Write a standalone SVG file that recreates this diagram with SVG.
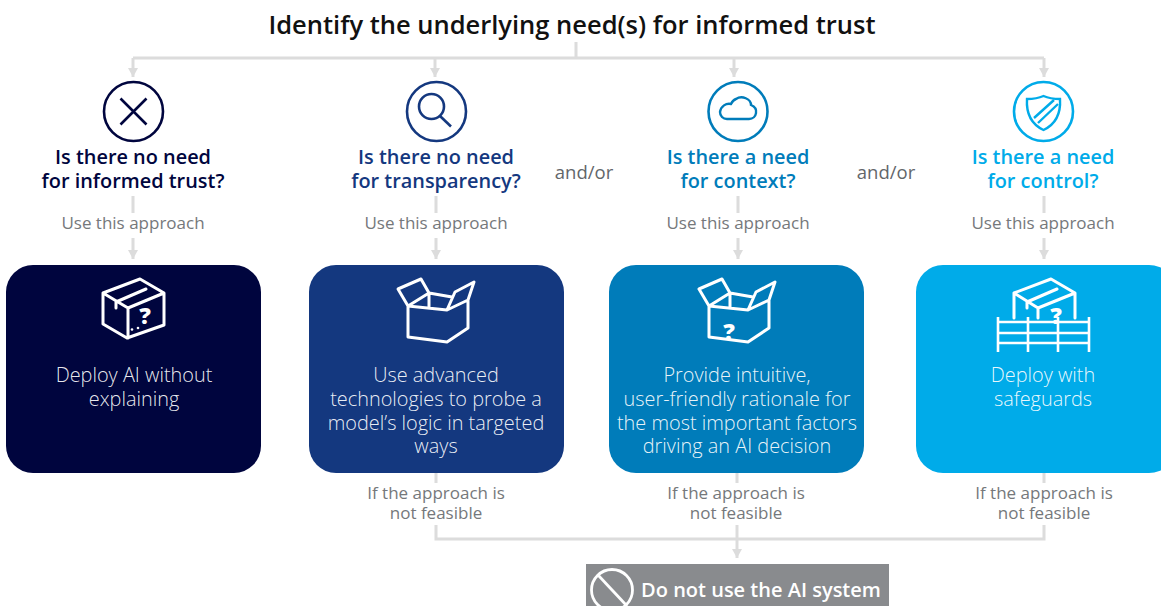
<svg xmlns="http://www.w3.org/2000/svg" width="1161" height="606" viewBox="0 0 1161 606">
<style>
text{font-family:"Open Sans","Noto Sans","Liberation Sans",sans-serif;text-anchor:middle}
.t{font-size:25.5px;font-weight:600;fill:#111}
.q{font-size:19.9px;font-weight:600}
.g{font-size:17px;fill:#75787b}
.a{font-size:18.5px;fill:#63666a}
.b{font-size:19.9px;font-weight:300;fill:#fff;fill-opacity:.92}
.c{fill:none;stroke:#dcdcdc;stroke-width:3}
.i{fill:none;stroke:#fff;stroke-width:3;stroke-linejoin:round;stroke-linecap:round}
.o{fill:none;stroke-width:2.6}
.qm{font-size:23px;font-weight:800;fill:#fff}
</style>
<defs>
<marker id="ah" markerUnits="userSpaceOnUse" markerWidth="10" markerHeight="10" refX="9" refY="5" orient="auto"><path d="M0 0L9 5L0 10Z" fill="#dcdcdc"/></marker>
<path id="openbox" class="i" d="M408 306V337L447 342L468 328V300L447 310ZM408 306L398 289L421 279L429 293ZM429 293V307M429 293L452 297M447 310L455 292L474 282L468 300"/>
</defs>
<g id="title"><text class="t" x="572" y="34">Identify the underlying need(s) for informed trust</text></g>
<g id="connectors">
<path class="c" d="M576 42V58M133 58H1044"/>
<path class="c" d="M133 58V77" marker-end="url(#ah)"/>
<path class="c" d="M435 58V77" marker-end="url(#ah)"/>
<path class="c" d="M734 58V77" marker-end="url(#ah)"/>
<path class="c" d="M1044 58V77" marker-end="url(#ah)"/>
<path class="c" d="M133 196V213M133 238V259" marker-end="url(#ah)"/>
<path class="c" d="M436 196V213M436 238V259" marker-end="url(#ah)"/>
<path class="c" d="M738 196V213M738 238V259" marker-end="url(#ah)"/>
<path class="c" d="M1044 196V213M1044 238V259" marker-end="url(#ah)"/>
<path class="c" d="M436 473V483M737 473V483M1044 473V483"/>
<path class="c" d="M436 525V539H1044V525"/>
<path class="c" d="M737 525V558" marker-end="url(#ah)"/>
</g>
<g id="need-trust">
<circle class="o" cx="133.500" cy="111.500" r="29.500" stroke="#00053e"/>
<path d="M120.500 98.500L146.500 124.500M146.500 98.500L120.500 124.500" fill="none" stroke="#00053e" stroke-width="2.600"/>
<text class="q" fill="#00053e"><tspan x="133" y="164">Is there no need</tspan><tspan x="133" y="188">for informed trust?</tspan></text>
<text class="g" x="133" y="229">Use this approach</text>
<rect x="6" y="265" width="255" height="208" rx="27" fill="#00053e"/>
<path class="i" d="M103 293L140 279L164 293V325L127 338L103 324ZM103 293L128 308L164 293M128 308V338M116 302L146 289M116 302V308"/>
<circle cx="132" cy="329.500" r="1.300" fill="#fff"/><circle cx="138" cy="328" r="1.300" fill="#fff"/>
<text class="qm" x="145" y="324">?</text>
<text class="b"><tspan x="134" y="382">Deploy AI without</tspan><tspan x="134" y="406">explaining</tspan></text>
</g>
<g id="need-transparency">
<circle class="o" cx="436.500" cy="111.500" r="29.500" stroke="#14387f"/>
<circle cx="431.500" cy="106.500" r="12.500" fill="none" stroke="#14387f" stroke-width="2.600"/>
<path d="M440 116L451 126.500" fill="none" stroke="#14387f" stroke-width="2.600"/>
<text class="q" fill="#14387f"><tspan x="436" y="164">Is there no need</tspan><tspan x="436" y="188">for transparency?</tspan></text>
<text class="g" x="436" y="229">Use this approach</text>
<rect x="309" y="265" width="255" height="208" rx="27" fill="#14387f"/>
<use href="#openbox"/>
<text class="b"><tspan x="436" y="382">Use advanced</tspan><tspan x="436" y="406">technologies to probe a</tspan><tspan x="436" y="430">model’s logic in targeted</tspan><tspan x="436" y="453">ways</tspan></text>
</g>
<g id="need-context">
<circle class="o" cx="738" cy="111.500" r="29.500" stroke="#007cba"/>
<path d="M727 119H749C757 119 759 108 751 105C751 99 742 95 736 99C733 100 732 102 731 104C726 103 721 106 720 112C720 116 723 119 727 119Z" fill="none" stroke="#007cba" stroke-width="2.400"/>
<text class="q" fill="#007cba"><tspan x="738" y="164">Is there a need</tspan><tspan x="738" y="188">for context?</tspan></text>
<text class="g" x="738" y="229">Use this approach</text>
<rect x="609" y="265" width="255" height="208" rx="27" fill="#007cba"/>
<use href="#openbox" x="301"/>
<text class="qm" x="729" y="340">?</text>
<text class="b"><tspan x="737" y="382">Provide intuitive,</tspan><tspan x="737" y="406">user-friendly rationale for</tspan><tspan x="737" y="430">the most important factors</tspan><tspan x="737" y="453">driving an AI decision</tspan></text>
</g>
<g id="need-control">
<circle class="o" cx="1043.500" cy="111.500" r="29.500" stroke="#00abe9"/>
<path d="M1027 99C1033 99 1039 98 1043.500 96C1048 98 1054 99 1060 99C1061 115 1054 125 1043.500 130C1033 125 1026 115 1027 99Z" fill="none" stroke="#00abe9" stroke-width="2.400"/>
<path d="M1034 118L1054 100M1038 123L1058 104" fill="none" stroke="#00abe9" stroke-width="2.400"/>
<text class="q" fill="#00abe9"><tspan x="1043" y="164">Is there a need</tspan><tspan x="1043" y="188">for control?</tspan></text>
<text class="g" x="1043" y="229">Use this approach</text>
<rect x="916" y="265" width="260" height="208" rx="27" fill="#00abe9"/>
<path class="i" d="M1014 318V293L1051 279L1075 293V318M1014 293L1038 308L1075 293M1038 308V318M1027 302L1057 289M1027 302V308"/>
<text class="qm" x="1056" y="324">?</text>
<path d="M998 317V352M1028 317V352M1058 317V352M1089 317V352M998 322H1089M998 333H1089M998 343H1089" fill="none" stroke="#fff" stroke-width="2.600"/>
<text class="b"><tspan x="1043" y="382">Deploy with</tspan><tspan x="1043" y="406">safeguards</tspan></text>
</g>
<g id="and-or"><text class="a" x="584" y="179">and/or</text><text class="a" x="886" y="179">and/or</text></g>
<g id="not-feasible">
<text class="g"><tspan x="436" y="499">If the approach is</tspan><tspan x="436" y="519">not feasible</tspan></text>
<text class="g"><tspan x="736" y="499">If the approach is</tspan><tspan x="736" y="519">not feasible</tspan></text>
<text class="g"><tspan x="1044" y="499">If the approach is</tspan><tspan x="1044" y="519">not feasible</tspan></text>
</g>
<g id="do-not-use">
<rect x="586" y="564" width="303" height="42" fill="#898b8e"/>
<circle cx="612" cy="590" r="20.500" fill="none" stroke="#fff" stroke-width="2.800"/>
<path d="M598 575L627 606" fill="none" stroke="#fff" stroke-width="2.800"/>
<text x="761" y="597" font-size="20" font-weight="600" fill="#fff">Do not use the AI system</text>
</g>
</svg>
